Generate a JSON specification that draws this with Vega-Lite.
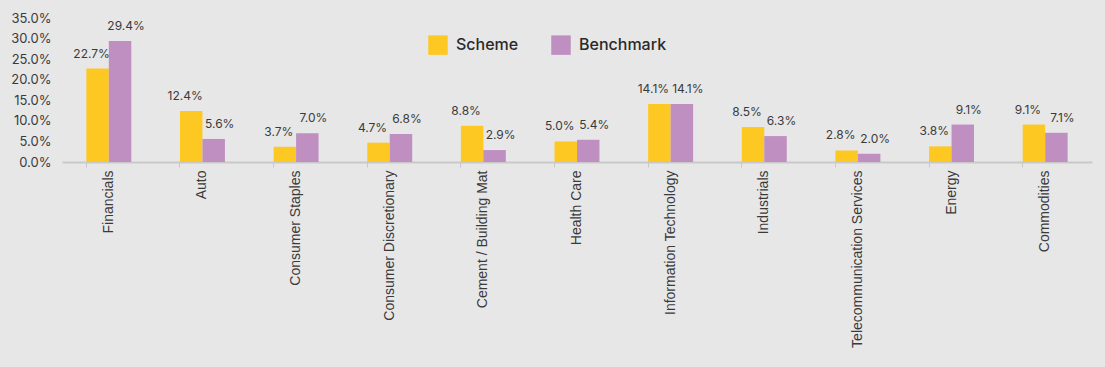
{
  "$schema": "https://vega.github.io/schema/vega-lite/v6.json",
  "width": 1030,
  "height": 144,
  "autosize": {"type": "none"},
  "padding": {"left": 62, "top": 18, "right": 13, "bottom": 205},
  "background": "#e7e7e8",
  "config": {"view": {"stroke": null}},
  "data": {
    "values": [
      {"sector": "Financials", "series": "Scheme", "value": 0.227},
      {"sector": "Financials", "series": "Benchmark", "value": 0.294},
      {"sector": "Auto", "series": "Scheme", "value": 0.124},
      {"sector": "Auto", "series": "Benchmark", "value": 0.056},
      {"sector": "Consumer Staples", "series": "Scheme", "value": 0.037},
      {"sector": "Consumer Staples", "series": "Benchmark", "value": 0.070},
      {"sector": "Consumer Discretionary", "series": "Scheme", "value": 0.047},
      {"sector": "Consumer Discretionary", "series": "Benchmark", "value": 0.068},
      {"sector": "Cement / Building Mat", "series": "Scheme", "value": 0.088},
      {"sector": "Cement / Building Mat", "series": "Benchmark", "value": 0.029},
      {"sector": "Health Care", "series": "Scheme", "value": 0.050},
      {"sector": "Health Care", "series": "Benchmark", "value": 0.054},
      {"sector": "Information Technology", "series": "Scheme", "value": 0.141},
      {"sector": "Information Technology", "series": "Benchmark", "value": 0.141},
      {"sector": "Industrials", "series": "Scheme", "value": 0.085},
      {"sector": "Industrials", "series": "Benchmark", "value": 0.063},
      {"sector": "Telecommunication Services", "series": "Scheme", "value": 0.028},
      {"sector": "Telecommunication Services", "series": "Benchmark", "value": 0.020},
      {"sector": "Energy", "series": "Scheme", "value": 0.038},
      {"sector": "Energy", "series": "Benchmark", "value": 0.091},
      {"sector": "Commodities", "series": "Scheme", "value": 0.091},
      {"sector": "Commodities", "series": "Benchmark", "value": 0.071}
    ]
  },
  "encoding": {
    "x": {
      "field": "sector", "type": "nominal", "sort": null,
      "scale": {"paddingInner": 0.52, "paddingOuter": 0.26},
      "axis": {
        "title": null, "labelAngle": -90, "labelAlign": "right", "labelBaseline": "middle",
        "labelFont": "Liberation Sans", "labelFontSize": 14, "labelColor": "#3a3a3a",
        "labelPadding": 3, "domainColor": "#c9c9c9", "domainWidth": 2,
        "tickColor": "#c9c9c9", "tickSize": 5, "tickWidth": 1, "bandPosition": 0,
        "labelLimit": 0
      }
    },
    "xOffset": {"field": "series", "type": "nominal", "sort": ["Scheme", "Benchmark"], "scale": {"paddingInner": 0, "paddingOuter": 0}},
    "y": {
      "field": "value", "type": "quantitative",
      "scale": {"domain": [0, 0.35]},
      "axis": {
        "title": null, "values": [0, 0.05, 0.1, 0.15, 0.2, 0.25, 0.3, 0.35], "grid": false,
        "domain": false, "ticks": false, "labelPadding": 11, "format": ".1%",
        "labelFont": "Inter", "labelFontSize": 13, "labelColor": "#3a3a3a"
      }
    }
  },
  "layer": [
    {
      "mark": {"type": "bar"},
      "encoding": {
        "color": {
          "field": "series", "type": "nominal",
          "scale": {"domain": ["Scheme", "Benchmark"], "range": ["#fec823", "#bf8fc1"]},
          "legend": {
            "title": null, "orient": "none", "legendX": 366, "legendY": 17,
            "direction": "horizontal", "symbolType": "square", "symbolSize": 380,
            "symbolStrokeWidth": 0, "labelFont": "Inter", "labelFontSize": 16, "labelFontWeight": 500,
            "labelColor": "#2a2a2a", "columnPadding": 32, "labelOffset": 8
          }
        }
      }
    },
    {
      "transform": [{"filter": "datum.series === 'Scheme'"}],
      "mark": {"type": "text", "baseline": "bottom", "dy": -8, "dx": -6, "font": "Inter", "fontSize": 12, "color": "#3a3a3a"},
      "encoding": {
        "text": {"field": "value", "type": "quantitative", "format": ".1%"}
      }
    },
    {
      "transform": [{"filter": "datum.series === 'Benchmark'"}],
      "mark": {"type": "text", "baseline": "bottom", "dy": -8, "dx": 6, "font": "Inter", "fontSize": 12, "color": "#3a3a3a"},
      "encoding": {
        "text": {"field": "value", "type": "quantitative", "format": ".1%"}
      }
    }
  ]
}
